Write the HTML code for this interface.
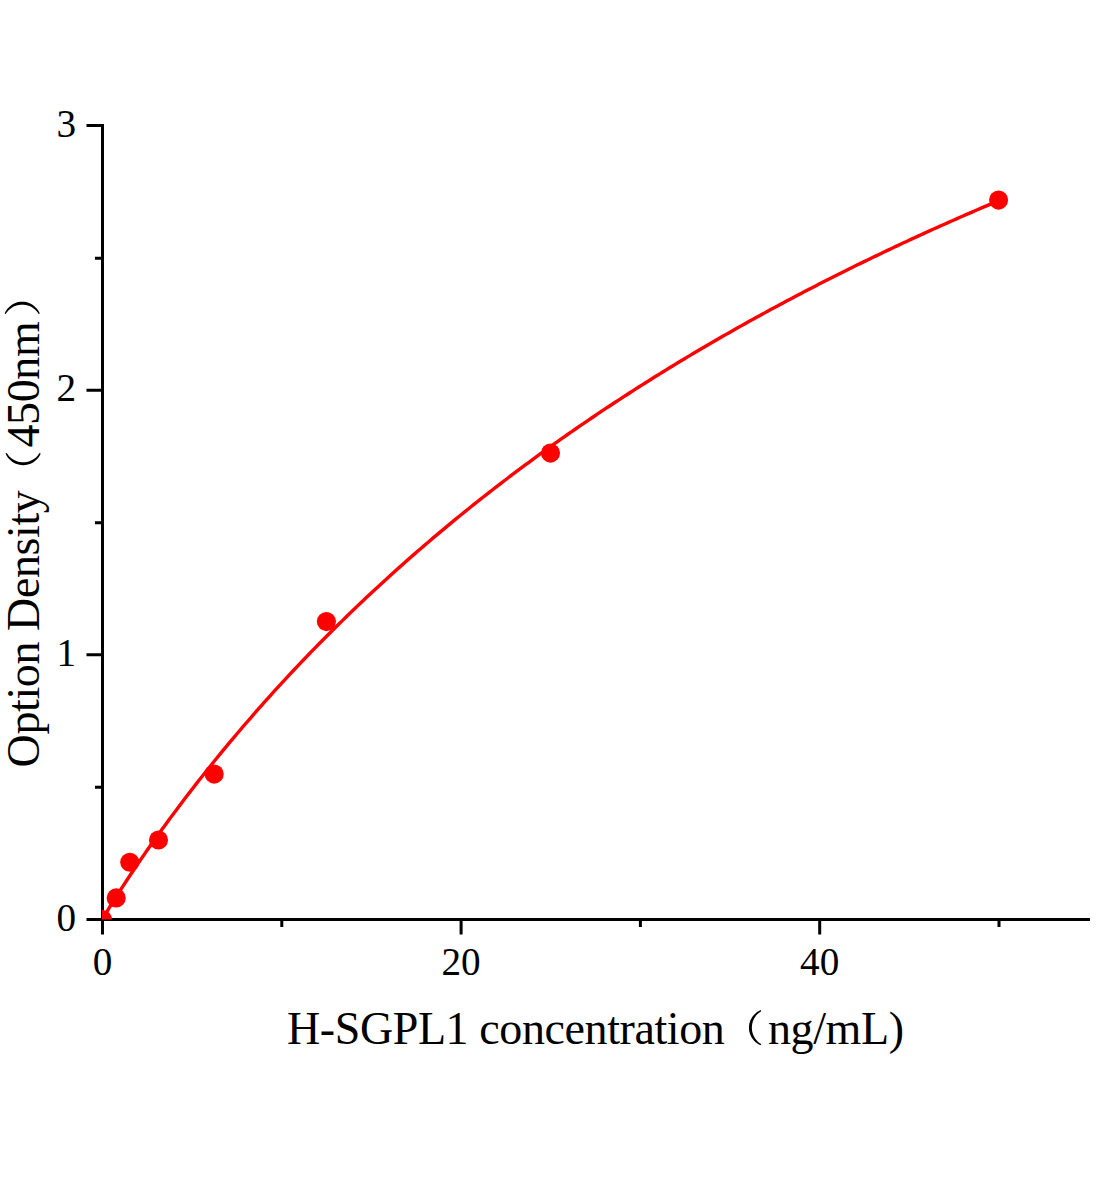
<!DOCTYPE html>
<html><head><meta charset="utf-8"><style>
html,body{margin:0;padding:0;background:#fff;}
body{width:1104px;height:1200px;overflow:hidden;}
svg{display:block;}
text{font-family:"Liberation Serif",serif;fill:#000;}
.t46{font-size:46px;letter-spacing:-0.4px;}
</style></head><body>
<svg width="1104" height="1200" viewBox="0 0 1104 1200">
<rect width="1104" height="1200" fill="#fff"/>
<defs><clipPath id="pc"><rect x="102" y="100" width="1000" height="819.6"/></clipPath></defs>
<path d="M102.50,919.50 L103.12,918.13 L103.74,917.04 L104.35,915.98 L104.97,914.92 L105.50,914.03 L105.59,913.88 L106.21,912.84 L106.83,911.81 L107.45,910.78 L108.06,909.76 L108.50,909.05 L108.68,908.75 L109.30,907.73 L109.92,906.73 L110.54,905.72 L111.16,904.72 L111.49,904.18 L111.77,903.73 L112.39,902.73 L113.01,901.74 L113.63,900.75 L114.25,899.77 L114.49,899.38 L114.87,898.79 L115.48,897.81 L116.10,896.83 L116.72,895.86 L117.34,894.89 L117.49,894.65 L117.96,893.92 L118.58,892.95 L119.19,891.98 L119.81,891.02 L120.43,890.06 L120.49,889.97 L123.49,885.34 L126.49,880.77 L129.48,876.23 L132.48,871.74 L135.48,867.28 L138.48,862.87 L141.48,858.49 L144.48,854.14 L147.47,849.83 L150.47,845.55 L153.47,841.31 L156.47,837.10 L159.47,832.91 L162.47,828.76 L165.46,824.63 L168.46,820.54 L171.46,816.47 L174.46,812.43 L177.46,808.42 L180.46,804.43 L183.45,800.47 L186.45,796.53 L189.45,792.63 L192.45,788.74 L195.45,784.88 L198.45,781.05 L201.44,777.23 L204.44,773.45 L207.44,769.68 L210.44,765.94 L213.44,762.22 L216.44,758.53 L219.43,754.85 L222.43,751.20 L225.43,747.57 L228.43,743.96 L231.43,740.37 L234.43,736.80 L237.42,733.26 L240.42,729.73 L243.42,726.22 L246.42,722.74 L249.42,719.27 L252.42,715.82 L255.41,712.40 L258.41,708.99 L261.41,705.60 L264.41,702.23 L267.41,698.87 L270.41,695.54 L273.40,692.22 L276.40,688.93 L279.40,685.65 L282.40,682.38 L285.40,679.14 L288.40,675.91 L291.39,672.70 L294.39,669.51 L297.39,666.33 L300.39,663.17 L303.39,660.03 L306.39,656.90 L309.38,653.79 L312.38,650.69 L315.38,647.62 L318.38,644.55 L321.38,641.51 L324.38,638.47 L327.37,635.46 L330.37,632.46 L333.37,629.47 L336.37,626.50 L339.37,623.54 L342.37,620.60 L345.36,617.68 L348.36,614.76 L351.36,611.87 L354.36,608.98 L357.36,606.11 L360.36,603.26 L363.35,600.42 L366.35,597.59 L369.35,594.78 L372.35,591.97 L375.35,589.19 L378.35,586.41 L381.34,583.65 L384.34,580.91 L387.34,578.17 L390.34,575.45 L393.34,572.74 L396.34,570.05 L399.33,567.37 L402.33,564.70 L405.33,562.04 L408.33,559.39 L411.33,556.76 L414.33,554.14 L417.32,551.53 L420.32,548.93 L423.32,546.35 L426.32,543.78 L429.32,541.22 L432.32,538.67 L435.31,536.13 L438.31,533.60 L441.31,531.09 L444.31,528.58 L447.31,526.09 L450.31,523.61 L453.30,521.14 L456.30,518.68 L459.30,516.23 L462.30,513.79 L465.30,511.37 L468.30,508.95 L471.29,506.54 L474.29,504.15 L477.29,501.76 L480.29,499.39 L483.29,497.03 L486.29,494.67 L489.28,492.33 L492.28,490.00 L495.28,487.67 L498.28,485.36 L501.28,483.06 L504.28,480.76 L507.27,478.48 L510.27,476.21 L513.27,473.94 L516.27,471.69 L519.27,469.44 L522.27,467.21 L525.26,464.98 L528.26,462.76 L531.26,460.55 L534.26,458.36 L537.26,456.17 L540.26,453.99 L543.25,451.81 L546.25,449.65 L549.25,447.50 L552.25,445.35 L555.25,443.22 L558.25,441.09 L561.24,438.97 L564.24,436.86 L567.24,434.76 L570.24,432.67 L573.24,430.58 L576.24,428.51 L579.23,426.44 L582.23,424.38 L585.23,422.33 L588.23,420.29 L591.23,418.25 L594.23,416.22 L597.22,414.21 L600.22,412.19 L603.22,410.19 L606.22,408.20 L609.22,406.21 L612.22,404.23 L615.21,402.26 L618.21,400.30 L621.21,398.34 L624.21,396.39 L627.21,394.45 L630.21,392.52 L633.20,390.59 L636.20,388.67 L639.20,386.76 L642.20,384.86 L645.20,382.96 L648.20,381.07 L651.19,379.19 L654.19,377.31 L657.19,375.45 L660.19,373.59 L663.19,371.73 L666.19,369.89 L669.18,368.05 L672.18,366.21 L675.18,364.39 L678.18,362.57 L681.18,360.76 L684.18,358.95 L687.17,357.15 L690.17,355.36 L693.17,353.57 L696.17,351.79 L699.17,350.02 L702.17,348.26 L705.16,346.50 L708.16,344.74 L711.16,343.00 L714.16,341.26 L717.16,339.52 L720.16,337.80 L723.15,336.07 L726.15,334.36 L729.15,332.65 L732.15,330.95 L735.15,329.25 L738.15,327.56 L741.14,325.88 L744.14,324.20 L747.14,322.53 L750.14,320.86 L753.14,319.20 L756.14,317.55 L759.13,315.90 L762.13,314.25 L765.13,312.62 L768.13,310.99 L771.13,309.36 L774.13,307.74 L777.12,306.13 L780.12,304.52 L783.12,302.91 L786.12,301.32 L789.12,299.73 L792.12,298.14 L795.11,296.56 L798.11,294.98 L801.11,293.41 L804.11,291.85 L807.11,290.29 L810.11,288.74 L813.10,287.19 L816.10,285.64 L819.10,284.11 L822.10,282.57 L825.10,281.05 L828.10,279.52 L831.09,278.01 L834.09,276.50 L837.09,274.99 L840.09,273.49 L843.09,271.99 L846.09,270.50 L849.08,269.01 L852.08,267.53 L855.08,266.05 L858.08,264.58 L861.08,263.12 L864.08,261.65 L867.07,260.20 L870.07,258.74 L873.07,257.30 L876.07,255.85 L879.07,254.42 L882.07,252.98 L885.06,251.55 L888.06,250.13 L891.06,248.71 L894.06,247.30 L897.06,245.89 L900.06,244.48 L903.05,243.08 L906.05,241.68 L909.05,240.29 L912.05,238.90 L915.05,237.52 L918.05,236.14 L921.04,234.77 L924.04,233.40 L927.04,232.03 L930.04,230.67 L933.04,229.32 L936.04,227.96 L939.03,226.61 L942.03,225.27 L945.03,223.93 L948.03,222.60 L951.03,221.27 L954.03,219.94 L957.02,218.62 L960.02,217.30 L963.02,215.98 L966.02,214.67 L969.02,213.37 L972.02,212.07 L975.01,210.77 L978.01,209.47 L981.01,208.18 L984.01,206.90 L987.01,205.62 L990.01,204.34 L993.00,203.06 L996.00,201.79 L999.00,200.53" fill="none" stroke="#ff0000" stroke-width="3.4" stroke-linejoin="round"/>
<g fill="#ff0000">
<circle cx="116.2" cy="897.9" r="9.55"/>
<circle cx="129.8" cy="862.3" r="9.55"/>
<circle cx="158.5" cy="840" r="9.55"/>
<circle cx="214.2" cy="774.1" r="9.55"/>
<circle cx="326.4" cy="621.6" r="9.55"/>
<circle cx="550.5" cy="453.1" r="9.55"/>
<circle cx="998.6" cy="200.1" r="9.55"/>
</g>
<g stroke="#000" stroke-width="3" fill="none">
<path d="M102.5,124 V921 M101,919.5 H1090"/>
<path d="M86.5,125.5 H102.5 M86.5,390.2 H102.5 M86.5,654.8 H102.5 M86.5,919.5 H102.5"/>
<path d="M95,258.3 H102.5 M95,522.8 H102.5 M95,787.2 H102.5"/>
<path d="M102.5,919.5 V934.5 M461.1,919.5 V934.5 M819.7,919.5 V934.5"/>
<path d="M281.8,919.5 V927 M640.4,919.5 V927 M999,919.5 V927"/>
</g>
<g clip-path="url(#pc)" fill="#ff0000">
<circle cx="102.5" cy="919.5" r="9.55"/>
</g>
<g font-size="39.2" text-anchor="end">
<text x="76" y="136.5">3</text>
<text x="76" y="401.2">2</text>
<text x="76" y="665.8">1</text>
<text x="76" y="930.5">0</text>
</g>
<g font-size="39.2" text-anchor="middle">
<text x="102.5" y="974.8">0</text>
<text x="461.1" y="974.8">20</text>
<text x="819.7" y="974.8">40</text>
</g>
<text id="xt1" class="t46" x="287" y="1043.5">H-SGPL1 concentration</text>
<text id="xt2" class="t46" x="768" y="1043.5">ng/mL)</text>
<path id="fp1" d="M760.63,1010.11 L758.99,1010.91 L757.43,1011.86 L755.95,1012.96 L754.58,1014.20 L753.33,1015.57 L752.21,1017.06 L751.24,1018.66 L750.43,1020.35 L749.79,1022.12 L749.32,1023.95 L749.04,1025.81 L748.95,1027.70 L749.04,1029.59 L749.32,1031.45 L749.79,1033.28 L750.43,1035.05 L751.24,1036.74 L752.21,1038.34 L753.33,1039.83 L754.58,1041.20 L755.95,1042.44 L757.43,1043.54 L758.99,1044.49 L760.63,1045.29 L761.21,1044.12 L759.79,1043.21 L758.46,1042.17 L757.24,1041.03 L756.13,1039.79 L755.14,1038.46 L754.28,1037.06 L753.54,1035.59 L752.93,1034.08 L752.46,1032.52 L752.12,1030.93 L751.92,1029.32 L751.85,1027.70 L751.92,1026.08 L752.12,1024.47 L752.46,1022.88 L752.93,1021.32 L753.54,1019.81 L754.28,1018.34 L755.14,1016.94 L756.13,1015.61 L757.24,1014.37 L758.46,1013.23 L759.79,1012.19 L761.21,1011.28 Z" fill="#000"/>
<g transform="translate(39.4,765.7) rotate(-90)">
<text id="yt1" class="t46" x="-1.7" y="0">Option Density</text>
<text id="yt2" class="t46" x="318.2" y="0">450nm</text>
<path d="M312.18,-33.84 L310.54,-33.04 L308.98,-32.09 L307.50,-30.99 L306.13,-29.75 L304.88,-28.38 L303.76,-26.89 L302.79,-25.29 L301.98,-23.60 L301.34,-21.83 L300.87,-20.00 L300.59,-18.14 L300.50,-16.25 L300.59,-14.36 L300.87,-12.50 L301.34,-10.67 L301.98,-8.90 L302.79,-7.21 L303.76,-5.61 L304.88,-4.12 L306.13,-2.75 L307.50,-1.51 L308.98,-0.41 L310.54,0.54 L312.18,1.34 L312.76,0.17 L311.34,-0.74 L310.01,-1.78 L308.79,-2.92 L307.68,-4.16 L306.69,-5.49 L305.83,-6.89 L305.09,-8.36 L304.48,-9.87 L304.01,-11.43 L303.67,-13.02 L303.47,-14.63 L303.40,-16.25 L303.47,-17.87 L303.67,-19.48 L304.01,-21.07 L304.48,-22.63 L305.09,-24.14 L305.83,-25.61 L306.69,-27.01 L307.68,-28.34 L308.79,-29.58 L310.01,-30.72 L311.34,-31.76 L312.76,-32.67 Z" fill="#000"/>
<path d="M452.27,-34.79 L453.91,-33.99 L455.47,-33.04 L456.95,-31.94 L458.32,-30.70 L459.57,-29.33 L460.69,-27.84 L461.66,-26.24 L462.47,-24.55 L463.11,-22.78 L463.58,-20.95 L463.86,-19.09 L463.95,-17.20 L463.86,-15.31 L463.58,-13.45 L463.11,-11.62 L462.47,-9.85 L461.66,-8.16 L460.69,-6.56 L459.57,-5.07 L458.32,-3.70 L456.95,-2.46 L455.47,-1.36 L453.91,-0.41 L452.27,0.39 L451.69,-0.78 L453.11,-1.69 L454.44,-2.73 L455.66,-3.87 L456.77,-5.11 L457.76,-6.44 L458.62,-7.84 L459.36,-9.31 L459.97,-10.82 L460.44,-12.38 L460.78,-13.97 L460.98,-15.58 L461.05,-17.20 L460.98,-18.82 L460.78,-20.43 L460.44,-22.02 L459.97,-23.58 L459.36,-25.09 L458.62,-26.56 L457.76,-27.96 L456.77,-29.29 L455.66,-30.53 L454.44,-31.67 L453.11,-32.71 L451.69,-33.62 Z" fill="#000"/>
</g>
</svg>
</body></html>
